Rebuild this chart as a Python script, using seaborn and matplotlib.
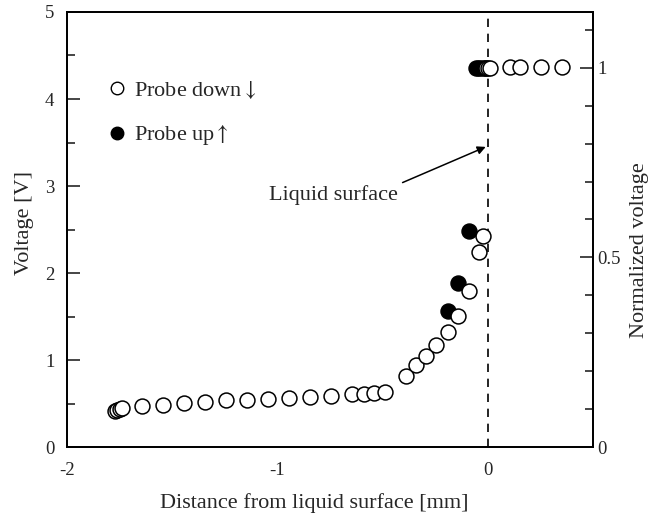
import numpy as np
import pandas as pd
import seaborn as sns
import matplotlib
matplotlib.use("Agg")
import matplotlib.pyplot as plt
from matplotlib.ticker import MultipleLocator
from matplotlib.lines import Line2D

# Probe moving down (open circles)
down_x = [-1.77, -1.76, -1.75, -1.74, -1.643, -1.542, -1.442, -1.343, -1.242, -1.144,
          -1.043, -0.943, -0.844, -0.743, -0.643, -0.590, -0.539, -0.489,
          -0.391, -0.343, -0.295, -0.244, -0.191, -0.140, -0.091, -0.040, -0.021,
          -0.010, 0.000, 0.010, 0.104, 0.155, 0.255, 0.354]
down_v = [0.42, 0.43, 0.44, 0.45, 0.47, 0.48, 0.51, 0.52, 0.54, 0.54,
          0.55, 0.56, 0.58, 0.59, 0.61, 0.61, 0.62, 0.63,
          0.82, 0.94, 1.05, 1.17, 1.32, 1.51, 1.80, 2.24, 2.43,
          4.36, 4.36, 4.36, 4.37, 4.37, 4.37, 4.37]

# Probe moving up (filled circles)
up_x = [-0.191, -0.140, -0.091, -0.055, -0.045, -0.035, -0.025, -0.015]
up_v = [1.57, 1.89, 2.48, 4.36, 4.36, 4.36, 4.36, 4.36]

v_ref = 4.36  # voltage corresponding to normalized value 1

down = pd.DataFrame({"x": down_x, "v": down_v})
up = pd.DataFrame({"x": up_x, "v": up_v})

sns.set_theme(style="white")
plt.rcParams["font.family"] = ["Liberation Serif", "DejaVu Serif"]
plt.rcParams["mathtext.fontset"] = "stix"

fs = 16      # labels and legend
tfs = 13.5   # tick labels
fig = plt.figure(figsize=(6.56, 5.2), dpi=100)
ax = fig.add_axes([0.102, 0.140, 0.802, 0.837])

sns.scatterplot(data=down, x="x", y="v", ax=ax, marker="o", s=115,
                facecolor="white", edgecolor="black", linewidth=1.1, zorder=3)
sns.scatterplot(data=up, x="x", y="v", ax=ax, marker="o", s=115,
                color="black", edgecolor="black", linewidth=1.1, zorder=2)

ax.axvline(0, color="black", ls=(0, (5, 4)), lw=1.2, zorder=1)

ax.set_xlim(-2, 0.5)
ax.set_ylim(0, 5)
ax.xaxis.set_minor_locator(MultipleLocator(0.5))
ax.yaxis.set_minor_locator(MultipleLocator(0.5))
ax.set_xticks([-2, -1, 0])
ax.set_xticklabels(["-2", "-1", "0"])
ax.set_yticks([0, 1, 2, 3, 4, 5])
ax.set_yticklabels(["0", "1", "2", "3", "4", "5"])

ax.tick_params(axis="x", which="major", pad=11)
ax.tick_params(axis="y", which="major", pad=9)
ax.tick_params(which="major", direction="in", length=9.5, width=1.2, labelsize=tfs,
               top=False, right=False)
ax.tick_params(which="minor", direction="in", length=5.5, width=1.2,
               top=False, right=False)
for sp in ax.spines.values():
    sp.set_linewidth(1.3)
    sp.set_color("black")

ax.set_xlabel("Distance from liquid surface [mm]", fontsize=fs, labelpad=10)
ax.set_ylabel("Voltage [V]", fontsize=fs, labelpad=8)
ax.xaxis.label.set_x(0.471)
ax.yaxis.label.set_y(0.515)

ax2 = ax.twinx()
ax2.set_ylim(0, 5 / v_ref)
ax2.set_yticks([0, 0.5, 1])
ax2.set_yticklabels(["0", "0.5", "1"])
ax2.yaxis.set_minor_locator(MultipleLocator(0.1))
ax2.tick_params(which="major", direction="in", length=9.5, width=1.2, labelsize=tfs, pad=3)
ax2.tick_params(which="minor", direction="in", length=5.5, width=1.2)
for sp in ax2.spines.values():
    sp.set_linewidth(1.3)
    sp.set_color("black")
ax2.set_ylabel("Normalized voltage", fontsize=fs, labelpad=7)
ax2.yaxis.label.set_y(0.453)

# Legend
handles = [
    Line2D([], [], marker="o", ls="none", markersize=9, markerfacecolor="white",
           markeredgecolor="black", markeredgewidth=1.0, label=r"Probe down$\downarrow$"),
    Line2D([], [], marker="o", ls="none", markersize=9, markerfacecolor="black",
           markeredgecolor="black", markeredgewidth=1.0, label=r"Probe up$\uparrow$"),
]
ax.legend(handles=handles, loc="upper left", bbox_to_anchor=(0.06, 0.866),
          frameon=False, fontsize=fs, handletextpad=0.3, labelspacing=1.0,
          handlelength=0.9, borderaxespad=0)

# Annotation for the liquid surface
ax.text(-1.04, 2.90, "Liquid surface", fontsize=fs, va="center", ha="left")
ax.annotate("", xy=(-0.01, 3.45), xytext=(-0.405, 3.04),
            arrowprops=dict(arrowstyle="-|>", color="black", lw=1.1,
                            mutation_scale=12, shrinkA=0, shrinkB=0))

fig.savefig("out.png", dpi=100)
